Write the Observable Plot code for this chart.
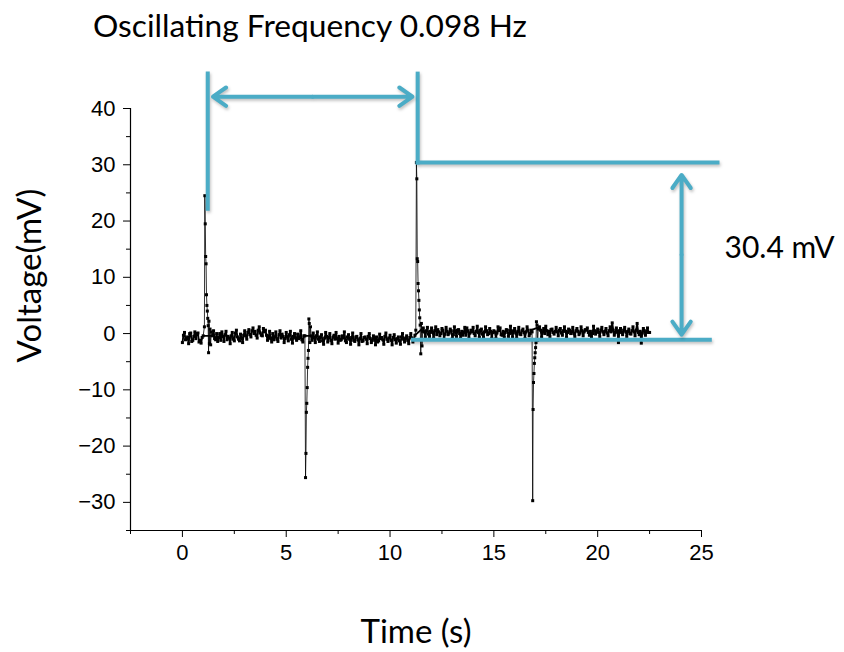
<!DOCTYPE html>
<html>
<head>
<meta charset="utf-8">
<script src="https://cdn.jsdelivr.net/npm/d3@7"></script>
<script src="https://cdn.jsdelivr.net/npm/@observablehq/plot@0.6"></script>
<style>
  html, body { margin: 0; padding: 0; background: #fff; }
  #title { font-family: Lato, "Open Sans", sans-serif; font-size: 31.7px; height: 50px; line-height: 50px; padding-left: 93px; color: #000; white-space: nowrap; }
  #chart svg { display: block; }
</style>
</head>
<body>
<div id="title"></div>
<div id="chart"></div>
<script>
// ---------- data ----------
const titleText = "Oscillating Frequency 0.098 Hz";
const xLabel = "Time (s)";
const yLabel = "Voltage(mV)";
const amplitudeLabel = "30.4 mV";

const xTicks = [0, 5, 10, 15, 20, 25];
const xMinorTicks = [-2.5, 2.5, 7.5, 12.5, 17.5, 22.5];
const yTicks = [-30, -20, -10, 0, 10, 20, 30, 40];
const yMinorTicks = [-35, -25, -15, -5, 5, 15, 25, 35];

// baseline recording, samples at t = 0.0, 0.1, ... 22.5 s
const baseStep = 0.1;
const baseV = [
  -1.6, 0.2, -0.9, -1.8, 0.1, -1.2, 0.3, 0.0, -1.5, -1.7,
  -0.4, 0.4, -1.3, 0.2, -1.9, 0.5, -1.1, -1.4, 0.0, 0.3,
  -1.4, 0.4, -0.5, -1.8, 0.2, -1.3, 0.6, -1.0, -0.1, -1.6,
  0.5, -1.0, 0.7, -0.6, 1.0, 0.4, -0.8, 1.2, -0.3, 0.9,
  0.6, -1.2, 0.4, -1.5, -1.1, 0.3, -1.4, 0.5, -0.1, -1.6,
  0.2, -1.3, 0.4, -1.7, 0.0, -1.2, -0.9, 0.5, -1.5, -1.0,
  0.0, -1.8, -0.4, 0.1, -1.6, 0.3, -1.4, -0.2, -1.9, 0.2,
  -1.5, 0.0, -1.8, -0.3, 0.2, -1.7, -1.2, -0.4, 0.3, -1.6,
  -0.2, -1.9, 0.1, -1.4, -0.5, -2.0, 0.0, -1.3, -0.6, -1.8,
  0.0, -1.6, -0.4, -2.0, -1.5, -0.1, -0.7, -1.9, 0.1, -1.4,
  -0.3, -2.0, -0.2, -1.7, -0.6, -1.9, 0.0, -1.5, -0.4, -1.8,
  0.0, -1.5, -0.3, 0.2, -1.0, 0.6, 1.0, -0.6, 1.1, -0.5,
  1.0, -0.8, 1.2, 0.7, -0.4, 0.9, -1.0, 1.1, -0.2, 0.8,
  -0.9, 1.2, -0.5, 0.7, -0.9, -0.3, 1.1, 1.0, -0.8, 0.6,
  1.1, -0.4, 1.3, -0.7, 0.8, -0.6, 1.2, -0.2, 0.9, -0.8,
  0.5, -0.9, 1.2, 1.0, -0.3, -0.7, 0.7, -0.5, 1.3, -0.6,
  0.9, -0.8, 1.1, -0.2, 0.8, -0.9, 1.2, -0.4, 0.6, -0.7,
  1.0, -0.3, 1.2, -0.6, 0.9, 1.3, -0.2, -0.5, 0.8, -0.1,
  1.1, -0.4, 0.9, -0.3, 1.2, -0.6, 0.8, 0.0, 1.1, -0.5,
  0.9, -0.2, 1.2, -0.4, 0.7, 1.0, -0.3, -0.6, 1.3, -0.1,
  0.8, -0.5, 1.1, -0.2, 0.9, -0.4, 1.2, 1.9, -0.3, 1.0,
  -1.6, 0.9, -0.2, 1.1, -0.5, 0.8, -0.1, 1.2, -0.4, 1.8,
  -0.2, -1.7, 0.9, -0.3, 1.0, 0.2
];
// in-between samples at t = 0.05, 0.15, ... 22.45 s
const midV = [
  -0.3, -1.1, -0.6, 0.0, -1.4, -0.5, -0.9, 0.1, -1.2, -0.7,
  -1.0, -0.3, -0.8, -1.5, -0.4, -0.9, 0.0, -0.7, -1.2, -0.5,
  -0.2, -1.1, -0.8, -0.4, -1.0, 0.1, -0.6, -1.3, -0.8, -0.3,
  -0.4, 0.2, -0.2, 0.5, 0.0, -0.3, 0.6, 0.1, -0.4, 0.3,
  -0.3, -0.7, -0.9, 0.0, -0.6, -1.0, -0.2, -0.8, -0.5, -0.9,
  -0.6, -0.2, -1.0, -0.5, -0.8, -0.1, -0.7, -1.1, -0.4, -0.8,
  -0.9, -0.5, -1.2, -0.7, -0.4, -1.0, -0.6, -1.3, -0.8, -0.5,
  -0.7, -1.2, -0.6, -1.0, -0.9, -0.5, -1.1, -0.8, -1.3, -0.6,
  -1.0, -0.7, -1.2, -0.6, -1.1, -0.9, -1.4, -0.7, -1.0, -0.5,
  -0.9, -1.2, -0.8, -0.6, -1.3, -0.9, -1.1, -0.5, -1.0, -0.8,
  -1.2, -0.7, -1.1, -0.9, -1.3, -0.6, -1.0, -0.8, -1.2, -0.7,
  -0.8, -1.0, -0.5, -0.9, 0.0, -0.2, 0.3, 0.5, -0.1, 0.4,
  0.2, 0.5, -0.2, 0.3, 0.0, 0.6, -0.1, 0.4, 0.1, 0.5,
  -0.2, 0.3, 0.6, 0.0, 0.4, 0.2, -0.3, 0.5, 0.1, 0.3,
  0.0, 0.4, 0.2, 0.6, -0.1, 0.3, 0.5, 0.0, 0.4, 0.2,
  0.3, 0.1, 0.5, -0.2, 0.4, 0.2, 0.6, 0.0, 0.3, 0.5,
  0.1, 0.4, -0.1, 0.5, 0.2, 0.3, 0.6, 0.0, 0.4, 0.2,
  0.5, 0.2, 0.6, 0.3, 0.0, 0.5, 0.4, 0.7, 0.2, 0.4,
  0.3, 0.6, 0.1, 0.5, 0.4, 0.2, 0.6, 0.3, 0.0, 0.5,
  0.4, 0.1, 0.5, 0.3, 0.6, 0.2, 0.4, 0.0, 0.5, 0.3,
  0.2, 0.6, 0.3, 0.4, 0.1, 0.5, 0.3, 0.6, 0.2, 0.4,
  0.5, 0.2, 0.6, 0.3, 0.4, 0.0, 0.5, 0.3, 0.6, 0.2,
  0.4, 0.1, 0.5, 0.3, 0.2
];

// spikes, finer sampling
const spike1T = [1.06, 1.08, 1.10, 1.12, 1.14, 1.16, 1.18, 1.20, 1.22, 1.24, 1.26, 1.28, 1.30, 1.33, 1.36, 1.39];
const spike1V = [1.2, 24.5, 19.5, 13.7, 12.4, 6.9, 5.0, 4.0, 2.7, 1.4, -3.4, 2.2, -1.8, 0.8, -2.0, 0.3];

const negSpike1T = [5.90, 5.93, 5.95, 5.97, 5.99, 6.01, 6.03, 6.05, 6.07, 6.09, 6.11, 6.14, 6.17];
const negSpike1V = [-0.4, -25.6, -21.3, -14.0, -12.4, -9.6, -6.0, -4.4, -3.0, 2.6, 1.8, -1.6, 1.2];

const spike2T = [11.24, 11.27, 11.29, 11.31, 11.33, 11.35, 11.37, 11.39, 11.41, 11.43, 11.45, 11.48, 11.51, 11.54, 11.57];
const spike2V = [0.6, 30.4, 27.5, 13.3, 12.8, 8.9, 7.6, 5.9, 4.2, 2.8, 1.5, -3.6, 1.8, -2.2, 0.4];

const negSpike2T = [16.84, 16.87, 16.89, 16.91, 16.93, 16.95, 16.97, 16.99, 17.01, 17.03, 17.05, 17.08, 17.11, 17.14];
const negSpike2V = [0.3, -29.7, -13.5, -8.7, -7.1, -5.3, -4.3, -3.4, -2.5, -1.6, 2.1, 1.5, -1.2, 0.8];

// annotation values (data space)
const peakTimes = [1.22, 11.33];
const peakValue = 30.4;
const baselineValue = -1.1;
const annotationTop = 46.2;
const firstMarkBottom = 22.2;
const periodArrowY = 42.1;
const ampArrowT = 24.04;
const ampArrowTop = 28.2;
const ampArrowBottom = -0.2;
const peakLineEnd = 25.77;
const baseLineStart = 11.1;
const baseLineEnd = 25.4;

// ---------- build ----------
document.getElementById("title").textContent = titleText;

const spikes = [
  [spike1T, spike1V], [negSpike1T, negSpike1V], [spike2T, spike2V], [negSpike2T, negSpike2V]
];
const windows = spikes.map(([T]) => [d3.min(T) - 0.01, d3.max(T) + 0.01]);
const baseline = baseV.map((v, i) => ({t: +(i * baseStep).toFixed(2), v}))
  .concat(midV.map((v, i) => ({t: +(i * baseStep + baseStep / 2).toFixed(2), v})))
  .filter(d => !windows.some(([a, b]) => d.t >= a && d.t <= b))
  .sort((a, b) => a.t - b.t);
const spikePts = spikes.flatMap(([T, V]) => T.map((t, i) => ({t, v: V[i]})));
const trace = baseline.concat(spikePts).sort((a, b) => a.t - b.t);

const teal = "#4bacc6";
const links = [
  {x1: peakTimes[0], y1: annotationTop, x2: peakTimes[0], y2: firstMarkBottom},
  {x1: peakTimes[1], y1: annotationTop, x2: peakTimes[1], y2: peakValue},
  {x1: peakTimes[1], y1: peakValue, x2: peakLineEnd, y2: peakValue},
  {x1: baseLineStart, y1: baselineValue, x2: baseLineEnd, y2: baselineValue}
];
const midT = (peakTimes[0] + peakTimes[1]) / 2;
const gapT = 0.25;
const midA = (ampArrowTop + ampArrowBottom) / 2;
const arrows = [
  {x1: midT, y1: periodArrowY, x2: peakTimes[0] + gapT, y2: periodArrowY},
  {x1: midT, y1: periodArrowY, x2: peakTimes[1] - gapT, y2: periodArrowY},
  {x1: ampArrowT, y1: midA, x2: ampArrowT, y2: ampArrowTop},
  {x1: ampArrowT, y1: midA, x2: ampArrowT, y2: ampArrowBottom}
];

const labelFont = "Lato, 'Open Sans', sans-serif";

const chart = Plot.plot({
  width: 844,
  height: 602,
  marginTop: 58,
  marginBottom: 122,
  marginLeft: 130,
  marginRight: 143,
  style: {fontFamily: "'Liberation Sans', Arial, sans-serif", fontSize: "22px", color: "#000", background: "#fff"},
  x: {domain: [-2.5, 25]},
  y: {domain: [-35, 40]},
  marks: [
    Plot.axisX(xTicks, {tickSize: 7, tickPadding: 7, label: null, fontSize: 22}),
    Plot.axisX(xMinorTicks, {tickSize: 4, text: null, label: null}),
    Plot.axisY(yTicks, {tickSize: 7, tickPadding: 8, label: null, fontSize: 22}),
    Plot.axisY(yMinorTicks, {tickSize: 4, text: null, label: null}),
    Plot.ruleX([-2.5], {stroke: "#000", strokeWidth: 1.2}),
    Plot.ruleY([-35], {stroke: "#000", strokeWidth: 1.2}),
    Plot.line(baseline, {x: "t", y: "v", stroke: "#000", strokeWidth: 1.8}),
    Plot.line(trace, {x: "t", y: "v", stroke: "#000", strokeWidth: 0.8}),
    Plot.dot(trace, {x: "t", y: "v", symbol: "square", r: 1.7, fill: "#000", stroke: null}),
    Plot.link(links, {x1: "x1", y1: "y1", x2: "x2", y2: "y2", stroke: teal, strokeWidth: 4, strokeLinecap: "square"}),
    Plot.arrow(arrows, {x1: "x1", y1: "y1", x2: "x2", y2: "y2", stroke: teal, strokeWidth: 4, headLength: 6, headAngle: 70}),
    Plot.text([amplitudeLabel], {x: ampArrowT, y: peakValue / 2, dx: 43, textAnchor: "start", lineAnchor: "middle", fontSize: 30, fontFamily: labelFont}),
    Plot.text([xLabel], {frameAnchor: "bottom", textAnchor: "middle", lineAnchor: "middle", dy: 102, fontSize: 33, fontFamily: labelFont}),
    Plot.text([yLabel], {frameAnchor: "left", textAnchor: "middle", lineAnchor: "middle", rotate: -90, dx: -100, dy: -44, fontSize: 33, fontFamily: labelFont})
  ]
});

d3.select(chart).selectAll('g[aria-label$="tick label"]').attr("font-size", 22).style("font-size", "22px");
d3.select(chart).selectAll(`g[stroke="${teal}"]`).style("filter", "drop-shadow(1.5px 2px 1.5px rgba(0,0,0,0.25))");
document.getElementById("chart").appendChild(chart);
</script>
</body>
</html>
